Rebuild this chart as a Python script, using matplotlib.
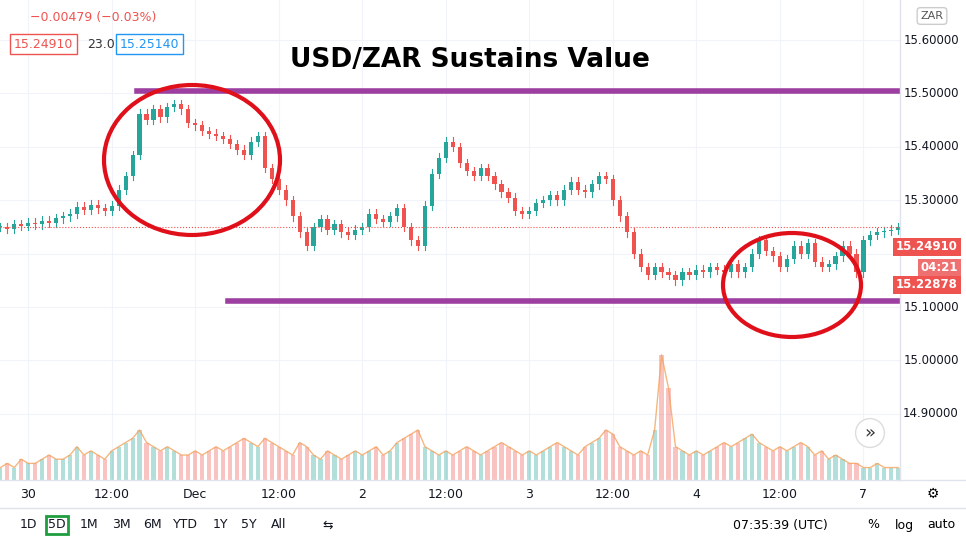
import matplotlib
matplotlib.use("Agg")
import matplotlib.pyplot as plt
from matplotlib.patches import Ellipse, Rectangle
from matplotlib.transforms import IdentityTransform

closes = [15.250,15.247,15.255,15.252,15.258,
15.255,15.262,15.258,15.266, 15.270,15.275,15.288,15.282, 15.292,15.285,15.280,15.290,
15.320,15.345,15.385,15.462, 15.450,15.470,15.455,15.475, 15.480,15.470,15.445,15.440,
15.430,15.425,15.420,15.415, 15.405,15.395,15.385,15.410, 15.420,15.360,15.340,15.320,
15.300,15.270,15.240,15.215, 15.250,15.265,15.245,15.255, 15.240,15.235,15.245,15.250,
15.275,15.265,15.260,15.270, 15.285,15.250,15.225,15.215, 15.290,15.350,15.380,15.410,
15.400,15.370,15.355,15.345, 15.360,15.345,15.330,15.315, 15.305,15.280,15.275,15.280,
15.295,15.300,15.310,15.300, 15.320,15.335,15.320,15.315, 15.330,15.345,15.340,15.300,
15.270,15.240,15.200,15.175, 15.160,15.175,15.165,15.160, 15.150,15.165,15.160,15.170,
15.165,15.175,15.170,15.165, 15.180,15.165,15.175,15.200, 15.225,15.205,15.195,15.175,
15.190,15.215,15.200,15.220, 15.185,15.175,15.180,15.195, 15.215,15.200,15.165,15.225,
15.235,15.240,15.242,15.245,15.249]
volumes = [3,4,3,5,4, 4,5,6,5, 5,6,8,6, 7,6,5,7, 8,9,10,12, 9,8,7,8, 7,6,6,7,
6,7,8,7, 8,9,10,9, 8,10,9,8, 7,6,9,8, 6,5,7,6, 5,6,7,6, 7,8,6,7, 9,10,11,12,
8,7,6,7, 6,7,8,7, 6,7,8,9, 8,7,6,7, 6,7,8,9, 8,7,6,8, 9,10,12,11, 8,7,6,7,
6,12,30,22, 8,7,6,7, 6,7,8,9, 8,9,10,11, 9,8,7,8, 7,8,9,8, 6,7,5,6, 5,4,4,3,3,
4,3,3,3]
day_labels = ["30","12:00","Dec","12:00","2","12:00","3","12:00","4","12:00","7"]
day_hours = [0,12,24,36,48,60,72,84,96,108,120]
price_ticks = [15.60,15.50,15.40,15.30,15.10,15.00,14.90]
top_line, bottom_line = 15.505, 15.112
last_price = 15.2491

green, red = "#26a69a", "#ef5350"
fig = plt.figure(figsize=(9.66,5.37), dpi=100)
ax = fig.add_axes([0, 0.106, 0.932, 0.894])
hours = list(range(-4, -4+len(closes)))
opens = [closes[0]] + closes[:-1]
for h,o,c in zip(hours, opens, closes):
    col = green if c >= o else red
    hi, lo = max(o,c)+0.008, min(o,c)-0.008
    ax.plot([h,h],[lo,hi], color=col, lw=0.8)
    ax.add_patch(Rectangle((h-0.3, min(o,c)), 0.6, max(abs(c-o),0.001), color=col, lw=0))
ax.set_xlim(-4.05, 125.3)
ax.set_ylim(14.776, 15.675)
ax.axhline(last_price, color=red, ls=":", lw=0.8)
ax.plot([15.6,125], [top_line]*2, color="#9c3fa0", lw=4)
ax.plot([28.7,125.3], [bottom_line]*2, color="#9c3fa0", lw=4)
for yv in price_ticks + [15.20]:
    ax.axhline(yv, color="#f0f3fa", lw=0.8, zorder=0)
for h in day_hours:
    ax.axvline(h, color="#f0f3fa", lw=0.8, zorder=0)
ax.set_xticks([]); ax.set_yticks([])
for s in ax.spines.values(): s.set_visible(False)
ax2 = ax.twinx()
ax2.bar(hours, volumes, width=0.6,
        color=[(green if c>=o else red) for o,c in zip(opens,closes)], alpha=0.35)
ax2.plot(hours, volumes, color="#f4a460", lw=1, alpha=0.8)
ax2.set_ylim(0, 115); ax2.axis("off")

T = IdentityTransform()
def P(x,y): return (x, 537-y)
fig.patches.append(Ellipse(P(192,160), 176, 150, fill=False, ec="#e0101b", lw=3, transform=T, figure=fig))
fig.patches.append(Ellipse(P(792,285), 138, 104, fill=False, ec="#e0101b", lw=3, transform=T, figure=fig))
fig.text(470/966, 1-60/537, "USD/ZAR Sustains Value", fontsize=19, weight="bold", ha="center", va="center")
for yv in price_ticks:
    ax.text(1.065, yv, f"{yv:.5f}", transform=ax.get_yaxis_transform(),
            ha="right", va="center", fontsize=8.5, color="#131722")
fig.add_artist(plt.Line2D([900/966]*2, [0.106,1], color="#e0e3eb", lw=1))
fig.add_artist(plt.Line2D([0,1], [0.106]*2, color="#e0e3eb", lw=1))
fig.add_artist(plt.Line2D([0,1], [1-508/537]*2, color="#e0e3eb", lw=1))
for txt, y, fc in [("15.24910",247,red),("04:21",268,"#ef7070"),("15.22878",285,red)]:
    fig.text(958/966, 1-y/537, txt, fontsize=8.5, color="white", ha="right", va="center", weight="bold",
             bbox=dict(boxstyle="square,pad=0.25", fc=fc, ec="none"))
fig.text(932/966, 1-16/537, "ZAR", fontsize=8, color="#555", ha="center", va="center",
         bbox=dict(boxstyle="round,pad=0.3", fc="white", ec="#ccc"))
fig.text(30/966, 1-18/537, "−0.00479 (−0.03%)", fontsize=9, color=red, va="center")
fig.text(14/966, 1-44/537, "15.24910", fontsize=9, color=red, va="center",
         bbox=dict(boxstyle="square,pad=0.3", fc="white", ec=red))
fig.text(87/966, 1-44/537, "23.0", fontsize=9, color="#333", va="center")
fig.text(120/966, 1-44/537, "15.25140", fontsize=9, color="#2196f3", va="center",
         bbox=dict(boxstyle="square,pad=0.3", fc="white", ec="#2196f3"))
for h, lab in zip(day_hours, day_labels):
    x = (h+4.05)/(125.3+4.05)*0.932
    fig.text(x, 1-494/537, lab, fontsize=9, ha="center", va="center", color="#131722")
fig.text(933/966, 1-494/537, "⚙", fontsize=10, ha="center", va="center")
fig.text(870/966, 1-433/537, "»", fontsize=13, ha="center", va="center", color="#333",
         bbox=dict(boxstyle="circle,pad=0.3", fc="white", ec="#ddd"))
for lab, x in [("1D",28),("5D",57),("1M",89),("3M",121),("6M",152),("YTD",185),("1Y",220),("5Y",249),("All",279),("⇆",328)]:
    kw = dict(bbox=dict(boxstyle="square,pad=0.2", fc="white", ec="#1e9e3e", lw=2)) if lab=="5D" else {}
    fig.text(x/966, 1-525/537, lab, fontsize=9, ha="center", va="center", color="#131722", **kw)
fig.text(780/966, 1-525/537, "07:35:39 (UTC)", fontsize=9, ha="center", va="center")
for lab, x in [("%",873),("log",904),("auto",941)]:
    fig.text(x/966, 1-525/537, lab, fontsize=9, ha="center", va="center")
fig.savefig("out.png", dpi=100)
